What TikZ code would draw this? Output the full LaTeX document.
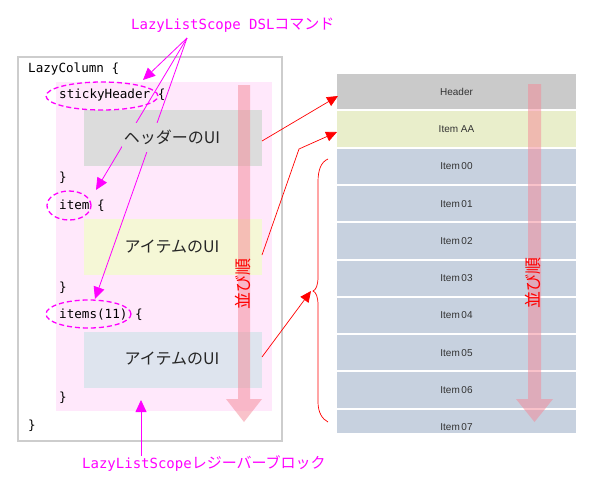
\documentclass[tikz,border=0pt]{standalone}
\usepackage{fontspec}
\setmainfont{Liberation Sans}
\newfontfamily\cjk{Noto Sans CJK JP}
\newfontfamily\monof{DejaVu Sans Mono}
\usetikzlibrary{arrows.meta,shapes.geometric}
\definecolor{mag}{HTML}{FF00FF}
\definecolor{framegray}{HTML}{CDCDCD}
\definecolor{pinkbg}{HTML}{FFE8FB}
\definecolor{hdrgray}{HTML}{DCDCDC}
\definecolor{yel}{HTML}{F5F7D6}
\definecolor{blu}{HTML}{DEE4EE}
\definecolor{lhdr}{HTML}{CACACA}
\definecolor{laa}{HTML}{E9EECB}
\definecolor{litem}{HTML}{C7D1DF}
\definecolor{arrowpink}{RGB}{245,135,150}
\tikzset{
  code/.style={font=\monof\fontsize{12.6}{12.6}\selectfont, anchor=base west, inner sep=0pt, text=black},
  uitext/.style={font=\cjk\fontsize{16}{16}\selectfont, text=black!85, inner sep=2pt, minimum height=29pt},
  rowtext/.style={font=\fontsize{10}{10}\selectfont, text=black!80},
  dashell/.style={ellipse, draw=mag, line width=1.3pt, dash pattern=on 5pt off 3pt, inner sep=0pt},
  magarrow/.style={draw=mag, line width=0.8pt, -{Triangle[length=12pt,width=11pt]}},
  redarrow/.style={draw=red, line width=0.7pt, -{Triangle[length=11pt,width=10pt]}},
  maglabel/.style={text=mag, inner sep=0pt, anchor=base west},
  order/.style={font=\cjk\fontsize{17}{17}\selectfont, text=red, rotate=90, inner sep=0pt},
  pinkarrow/.style={fill=arrowpink, opacity=0.5}
}
\begin{document}
\begin{tikzpicture}[x=1pt,y=-1pt]
\useasboundingbox (0,0) rectangle (600,488);
\fill[white] (0,0) rectangle (600,488);

% ---------- left panel ----------
\draw[framegray, line width=2pt] (18,57) rectangle (282,441);
\fill[pinkbg] (56,82) rectangle (272,411);
\fill[hdrgray] (84,110) rectangle (262,166);
\fill[yel] (84,219) rectangle (262,275);
\fill[blu] (84,332) rectangle (262,388);
\fill[pinkarrow] (238,85) -- (250,85) -- (250,399) -- (262,399) -- (244,422) -- (226,399) -- (238,399) -- cycle;
\node[order] (ordL) at (243,284) {並び順};

\node[code] (c1) at (28,72) {LazyColumn \{};
\node[code] (c2) at (59,98) {stickyHeader \{};
\node[code] (c3) at (59,181) {\}};
\node[code] (c4) at (59,209) {item \{};
\node[code] (c5) at (59,291) {\}};
\node[code] (c6) at (59,318) {items(11) \{};
\node[code] (c7) at (59,401) {\}};
\node[code] (c8) at (28,429) {\}};

\node[dashell, minimum width=112pt, minimum height=28pt] (eS) at (102,96) {};
\node[dashell, minimum width=44pt, minimum height=29pt] (eI) at (69,205.5) {};
\node[dashell, minimum width=85pt, minimum height=28pt] (eIs) at (88.5,314) {};

% top label and arrows
\node[maglabel] (topL) at (131,29) {{\monof\fontsize{14}{14}\selectfont LazyListScope DSL}{\cjk\fontsize{15}{15}\selectfont コマンド}};
\coordinate (src) at (187,38);
\coordinate (tS) at (143,80);
\coordinate (tI) at (96,190);
\coordinate (tIs) at (95,299);
\draw[magarrow] (src) -- (tS);
\draw[magarrow] (src) -- (tI);
\draw[magarrow] (src) -- (tIs);

% UI text nodes (filled, hide the lines behind them)
\node[uitext, fill=hdrgray] (ui1) at (172,137) {ヘッダーのUI};
\node[uitext, fill=yel] (ui2) at (172,247) {アイテムのUI};
\node[uitext, fill=blu] (ui3) at (172,359) {アイテムのUI};

% bottom label
\node[maglabel] (botL) at (82,468) {{\monof\fontsize{14}{14}\selectfont LazyListScope}{\cjk\fontsize{15}{15}\selectfont レジーバーブロック}};
\coordinate (bsrc) at (141,456);
\coordinate (btip) at (141,400);
\draw[magarrow] (bsrc) -- (btip);

% ---------- right panel ----------
\begin{scope}
\clip (337,74) rectangle (576,432);
\fill[white] (337,74) rectangle (576,432);
\fill[lhdr] (337,74) rectangle (576,109.3);
\node[rowtext] (rH) at (456.5,91.6) {Header};
\fill[laa] (337,111.3) rectangle (576,146.6);
\node[rowtext] (rAA) at (456.5,129) {Item AA};
\foreach \t [count=\i from 0] in {00,01,02,03,04,05,06,07}{
  \pgfmathsetmacro{\ya}{148.6+\i*37.3}
  \pgfmathsetmacro{\yb}{\ya+35.3}
  \pgfmathsetmacro{\yc}{\ya+17.7}
  \fill[litem] (337,\ya) rectangle (576,\yb);
  \node[rowtext] (r\i) at (456.5,\yc) {Item\,\t};
}
\end{scope}
\fill[pinkarrow] (528,84) -- (541,84) -- (541,399) -- (553,399) -- (534.5,422) -- (516,399) -- (528,399) -- cycle;
\node[order] (ordR) at (533,283) {並び順};

% ---------- red connectors ----------
\coordinate (a1s) at (262,141);
\coordinate (a1t) at (338,96);
\coordinate (a2s) at (262,255);
\coordinate (a2b) at (299,149);
\coordinate (a2t) at (337,132);
\coordinate (a3s) at (262,357);
\coordinate (a3t) at (311,291);
\draw[redarrow] (a1s) -- (a1t);
\draw[redarrow] (a2s) -- (a2b) -- (a2t);
\draw[redarrow] (a3s) -- (a3t);
\coordinate (brT) at (328,159);
\coordinate (brM) at (313,291);
\coordinate (brB) at (328,422);
\draw[red, line width=0.7pt] (brT) .. controls (321,162) and (318,170) .. (318,182) -- (318,277)
  .. controls (318,285) and (316,290) .. (brM)
  .. controls (316,292) and (318,297) .. (318,305) -- (318,402)
  .. controls (318,412) and (322,419) .. (brB);
\end{tikzpicture}
\end{document}
